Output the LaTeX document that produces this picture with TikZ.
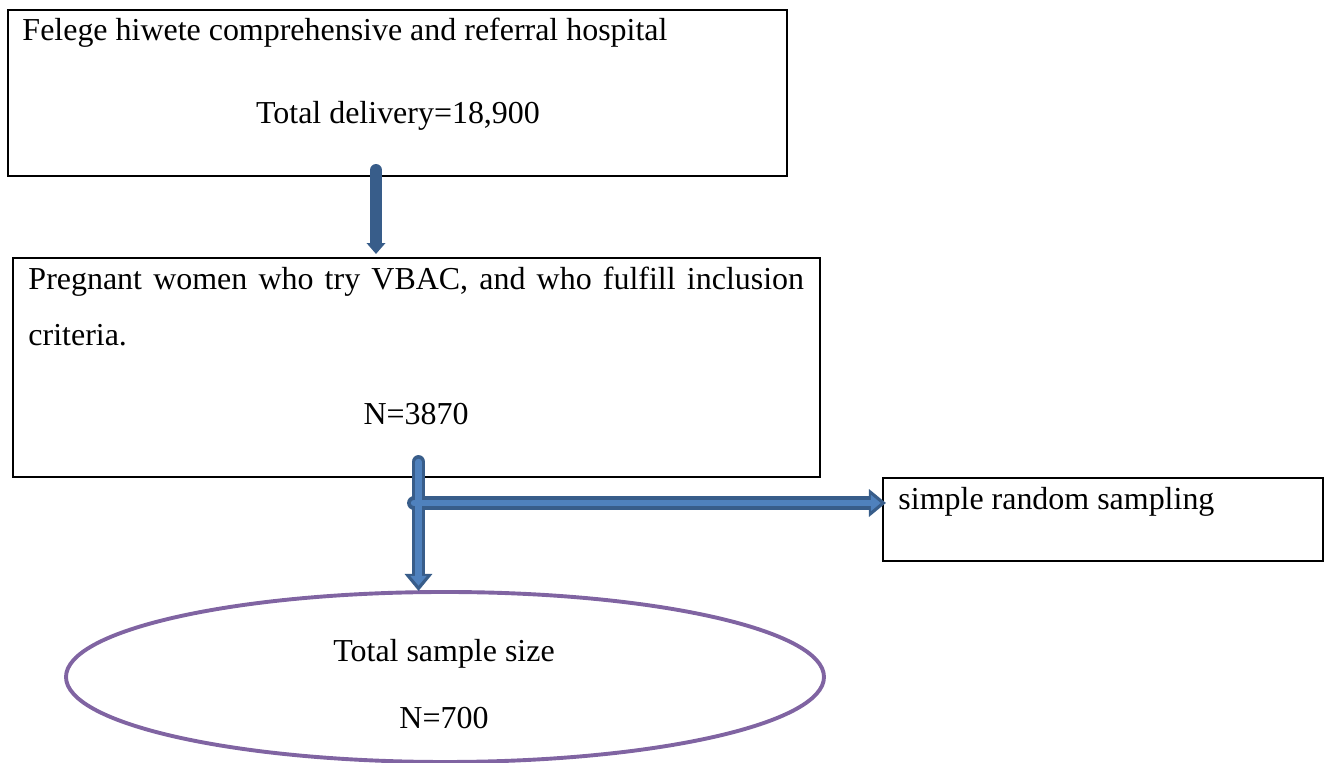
\documentclass[tikz,border=0pt]{standalone}
\usepackage{fontspec}
\setmainfont{Liberation Serif}
\usetikzlibrary{arrows.meta,shapes.geometric}
\definecolor{arrowline}{HTML}{385D8A}
\definecolor{arrowfill}{HTML}{4F81BD}
\definecolor{ringline}{HTML}{8064A2}

\begin{document}
\begin{tikzpicture}
  [x=0.41pt,y=-0.41pt,
    every node/.style={font=\fontsize{13.1}{15}\selectfont},
    box/.style={draw,line width=0.6pt,rectangle,inner sep=0pt},
    txt/.style={inner sep=0pt,anchor=base west},
    mid/.style={inner sep=0pt,anchor=base},
    ring/.style={draw=ringline,line width=1.6pt,ellipse,inner sep=0pt},
    outerarrow/.style={draw=arrowline,line width=5.7pt,line cap=round,
      -{Triangle[width=11pt,length=7pt]}},
    innerarrow/.style={draw=arrowfill,line width=2.6pt,line cap=round,
      -{Triangle[width=6.5pt,length=4pt]}},
]
  \useasboundingbox (0,0) rectangle (1324,763);
  % boxes
  \node[box,minimum width=779*0.41pt,minimum height=166*0.41pt] (hospital) at (397.5,93) {};
  \node[box,minimum width=807*0.41pt,minimum height=219*0.41pt] (women) at (416.5,367.5) {};
  \node[box,minimum width=440*0.41pt,minimum height=83*0.41pt] (sampling) at (1103,519.5) {};
  \node[ring,minimum width=758*0.41pt,minimum height=170*0.41pt] (total) at (445,677) {};
  % texts
  \node[txt] (hospname) at (22,41) {Felege hiwete comprehensive and referral hospital};
  \node[mid] (delivery) at (398,124) {Total delivery=18,900};
  \node[txt] (crit1) at (28,290) {\makebox[318pt][s]{Pregnant women who try VBAC, and who fulfill inclusion}};
  \node[txt] (crit2) at (28,346) {criteria.};
  \node[mid] (popn) at (416,425) {N=3870};
  \node[txt] (srs) at (898,510) {simple random sampling};
  \node[mid] (sizetxt) at (444,662) {Total sample size};
  \node[mid] (sizen) at (444,729) {N=700};
  % arrow ends
  \coordinate (a1s) at (376,170);
  \coordinate (a1e) at (376,254);
  \coordinate (a2s) at (418.5,462);
  \coordinate (a2e) at (418.5,591);
  \coordinate (a3s) at (414,503);
  \coordinate (a3e) at (886,503);
  % arrows
  \draw[outerarrow,line width=4.9pt,-{Triangle[width=7.5pt,length=4.5pt]}] (a1s) -- (a1e);
  \foreach \s/\e in {a2s/a2e,a3s/a3e}
    \draw[outerarrow] (\s) -- (\e);
  \foreach \s/\e in {a2s/a2e,a3s/a3e}
    \draw[innerarrow,shorten >=2.2pt] (\s) -- (\e);
\end{tikzpicture}
\end{document}
